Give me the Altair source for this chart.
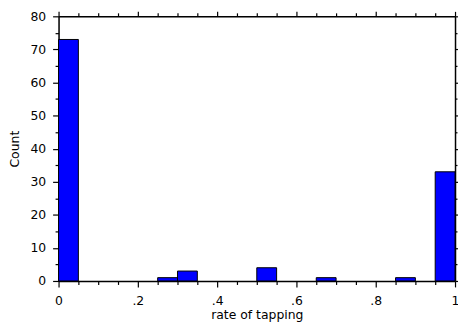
import altair as alt
import pandas as pd

bin_starts = [0.00, 0.05, 0.10, 0.15, 0.20, 0.25, 0.30, 0.35, 0.40, 0.45,
              0.50, 0.55, 0.60, 0.65, 0.70, 0.75, 0.80, 0.85, 0.90, 0.95]
counts = [73, 0, 0, 0, 0, 1, 3, 0, 0, 0,
          4, 0, 0, 1, 0, 0, 0, 1, 0, 33]
bin_width = 0.05

df = pd.DataFrame({"start": bin_starts, "count": counts})
df["end"] = df["start"] + bin_width
df["base"] = 0
df = df[df["count"] > 0]

FONT = "DejaVu Sans"
x_vals = [round(i * 0.05, 2) for i in range(21)]
y_vals = [i * 5 for i in range(17)]

x_major_test = "abs(datum.value*5 - round(datum.value*5)) < 0.001"
y_major_test = "datum.value % 10 == 0"

x_label_expr = ("abs(datum.value*5 - round(datum.value*5)) < 0.001 ? "
                "(datum.value == 0 ? '0' : datum.value == 1 ? '1' : "
                "replace(format(datum.value, '.1f'), '0.', '.')) : ''")
y_label_expr = "datum.value % 10 == 0 ? format(datum.value, 'd') : ''"

common_axis = dict(
    domainColor="black", domainWidth=1.5, tickColor="black", tickWidth=1.2,
    labelFont=FONT, labelFontSize=12.5, labelColor="black",
    titleFont=FONT, titleFontSize=12.5, titleFontWeight="normal", titleColor="black",
    grid=False, labelOverlap=False,
)

xscale = alt.Scale(domain=[0, 1], nice=False, zero=False, padding=0)
yscale = alt.Scale(domain=[0, 80], nice=False, padding=0)

bars = alt.Chart(df).mark_bar(color="#0000FF", stroke="black", strokeWidth=1).encode(
    x=alt.X("start:Q", scale=xscale, axis=alt.Axis(
        values=x_vals, labelExpr=x_label_expr, title="rate of tapping",
        tickSize={"condition": {"test": x_major_test, "value": 6}, "value": 3.5},
        labelPadding=8, titlePadding=1, labelFlush=False, **common_axis)),
    x2="end:Q",
    y=alt.Y("count:Q", scale=yscale, axis=alt.Axis(
        values=y_vals, labelExpr=y_label_expr, title="Count",
        tickSize={"condition": {"test": y_major_test, "value": 6}, "value": 3.5},
        labelPadding=7, titlePadding=8, labelFlush=False, **common_axis)),
    y2="base:Q",
)

frame = alt.Chart(df).mark_point(opacity=0).encode(
    x=alt.X("start:Q", scale=xscale, axis=alt.Axis(
        orient="top", values=x_vals, labels=False, title=None,
        tickSize={"condition": {"test": x_major_test, "value": 5}, "value": 3.5},
        **common_axis)),
    y=alt.Y("count:Q", scale=yscale, axis=alt.Axis(
        orient="right", values=y_vals, labels=False, title=None,
        tickSize={"condition": {"test": y_major_test, "value": 3}, "value": 2},
        **common_axis)),
)

chart = alt.layer(bars, frame).resolve_scale(x="independent", y="independent").properties(
    width=400, height=267,
    autosize=alt.AutoSizeParams(type="none"),
    padding={"left": 51, "top": 7, "right": 3, "bottom": 41},
).configure_view(stroke=None).configure(background="white")

chart.save("out.html", embed_options={"renderer": "svg", "actions": False})
